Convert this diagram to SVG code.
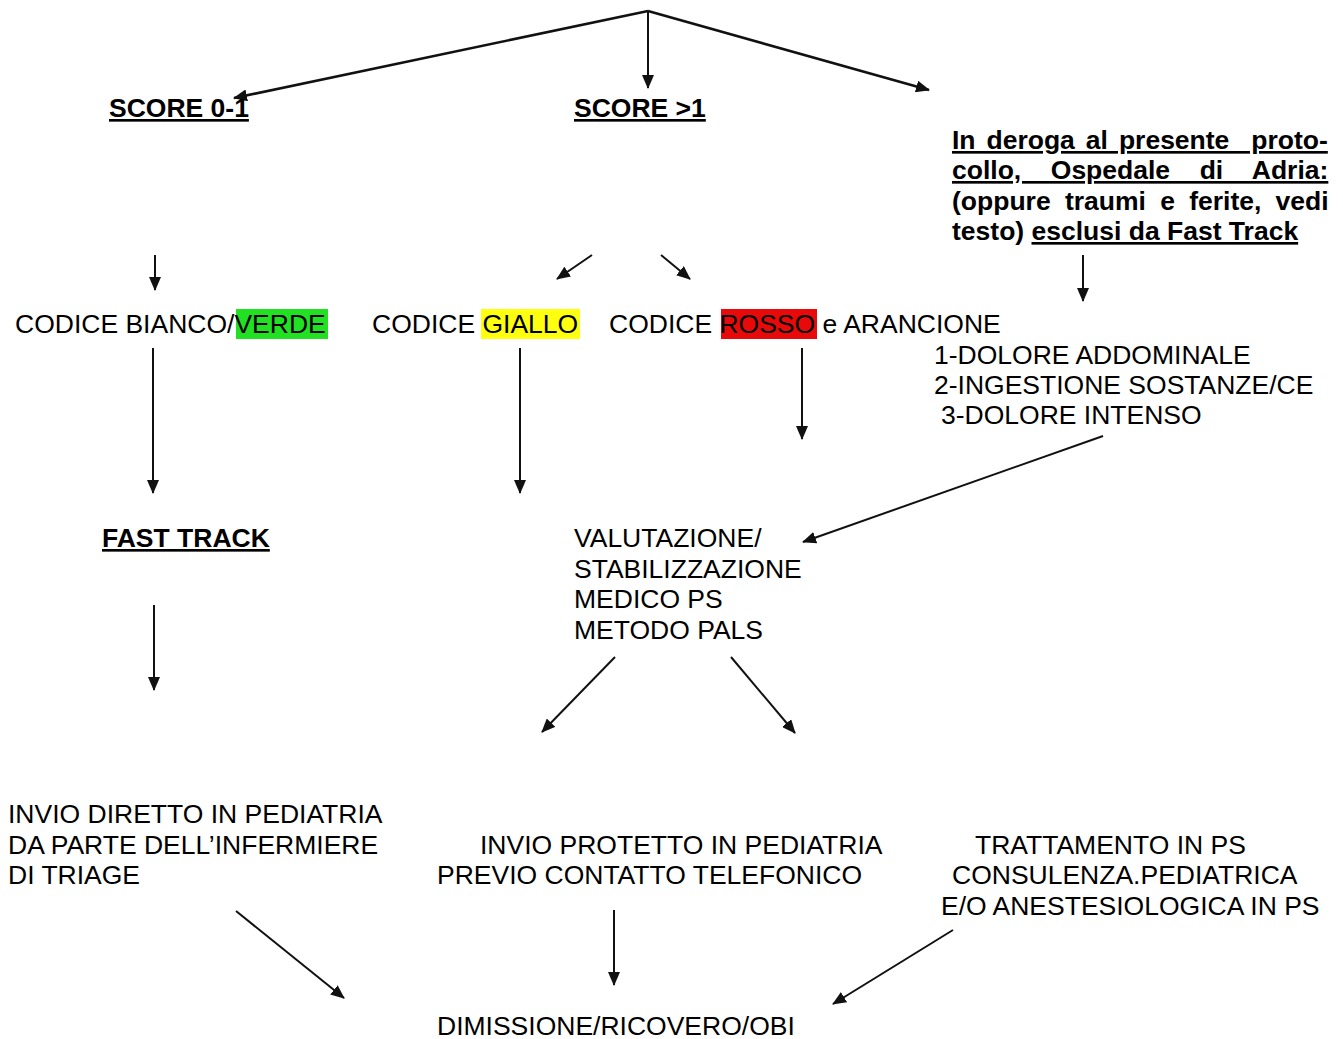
<svg xmlns="http://www.w3.org/2000/svg" width="1343" height="1039" viewBox="0 0 1343 1039">
<style>
.t{font-family:"Liberation Sans",Arial,sans-serif;font-size:26.5px;fill:#000}
.b{font-weight:bold}
.u{text-decoration:underline}
.c{stroke:#111;stroke-width:2;fill:none;marker-end:url(#ah)}
.ct{stroke:#111;stroke-width:2.6;fill:none;marker-end:url(#ah)}
</style>
<defs>
<marker id="ah" markerUnits="userSpaceOnUse" markerWidth="14" markerHeight="12" refX="13" refY="6" orient="auto">
<path d="M0,0 L14,6 L0,12 z" fill="#111"/>
</marker>
</defs>
<rect width="1343" height="1039" fill="#fff"/>
<g id="connectors">
<path class="ct" d="M648,11 L234,98"/>
<path class="c" d="M648,11 L648,88"/>
<path class="ct" d="M648,11 L929,90"/>
<path class="c" d="M155,255 L155,290"/>
<path class="c" d="M592,255 L557,279"/>
<path class="c" d="M661,255 L690,279"/>
<path class="c" d="M1083,255 L1083,301"/>
<path class="c" d="M153,348 L153,493"/>
<path class="c" d="M520,348 L520,493"/>
<path class="c" d="M802,348 L802,439"/>
<path class="c" d="M1103,436 L803,542"/>
<path class="c" d="M154,605 L154,690"/>
<path class="c" d="M615,657 L542,732"/>
<path class="c" d="M731,657 L795,733"/>
<path class="c" d="M236,911 L344,998"/>
<path class="c" d="M614,910 L614,985"/>
<path class="c" d="M953,930 L833,1004"/>
</g>
<g id="score01"><text class="t b u" x="109" y="117">SCORE 0-1</text></g>
<g id="score1"><text class="t b u" x="574" y="117">SCORE &gt;1</text></g>
<g id="deroga">
<text class="t b u" x="952" y="149" word-spacing="3.6" style="white-space:pre">In deroga al presente  proto-</text>
<text class="t b u" x="952" y="179" word-spacing="22.2">collo, Ospedale di Adria:</text>
<text class="t b" x="952" y="210" word-spacing="6.9">(oppure traumi e ferite, vedi</text>
<text class="t b" x="952" y="240">testo) <tspan class="u">esclusi da Fast Track</tspan></text>
</g>
<g id="verde">
<rect x="236" y="309" width="92" height="30" fill="#22e022"/>
<text class="t" x="15" y="333">CODICE BIANCO/VERDE</text>
</g>
<g id="giallo">
<rect x="481" y="309" width="99" height="30" fill="#ffff10"/>
<text class="t" x="372" y="333">CODICE GIALLO</text>
</g>
<g id="rosso">
<rect x="721" y="309" width="96" height="30" fill="#e80a0a"/>
<text class="t" x="609" y="333">CODICE ROSSO e ARANCIONE</text>
</g>
<g id="elenco">
<text class="t" x="934" y="364">1-DOLORE ADDOMINALE</text>
<text class="t" x="934" y="394">2-INGESTIONE SOSTANZE/CE</text>
<text class="t" x="941" y="424">3-DOLORE INTENSO</text>
</g>
<g id="fasttrack"><text class="t b u" x="102" y="547">FAST TRACK</text></g>
<g id="valutazione">
<text class="t" x="574" y="547">VALUTAZIONE/</text>
<text class="t" x="574" y="578">STABILIZZAZIONE</text>
<text class="t" x="574" y="608">MEDICO PS</text>
<text class="t" x="574" y="639">METODO PALS</text>
</g>
<g id="invio-diretto">
<text class="t" x="8" y="823">INVIO DIRETTO IN PEDIATRIA</text>
<text class="t" x="8" y="854">DA PARTE DELL’INFERMIERE</text>
<text class="t" x="8" y="884">DI TRIAGE</text>
</g>
<g id="invio-protetto">
<text class="t" x="480" y="854">INVIO PROTETTO IN PEDIATRIA</text>
<text class="t" x="437" y="884">PREVIO CONTATTO TELEFONICO</text>
</g>
<g id="trattamento">
<text class="t" x="975" y="854">TRATTAMENTO IN PS</text>
<text class="t" x="952" y="884">CONSULENZA.PEDIATRICA</text>
<text class="t" x="941" y="915">E/O ANESTESIOLOGICA IN PS</text>
</g>
<g id="dimissione"><text class="t" x="437" y="1035">DIMISSIONE/RICOVERO/OBI</text></g>
</svg>
